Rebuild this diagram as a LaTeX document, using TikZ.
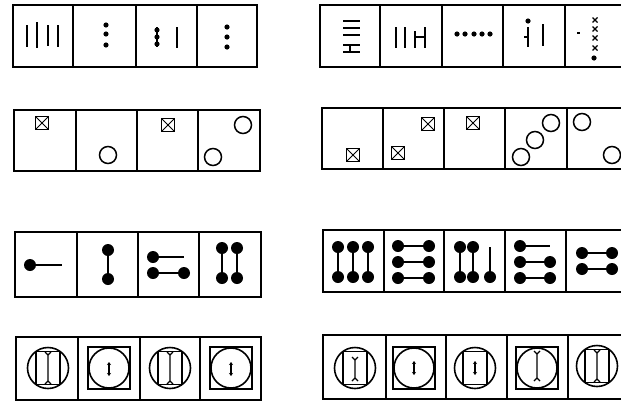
\documentclass[tikz,border=0pt]{standalone}
\usetikzlibrary{arrows.meta}
\begin{document}
\begin{tikzpicture}[x=1pt,y=-1pt,
  rowbox/.style={line width=1.9pt},
  divider/.style={line width=1.4pt},
  stroke/.style={line width=1.8pt},
  heavy/.style={line width=2.3pt},
  fine/.style={line width=1.2pt}]
\useasboundingbox (0,0) rectangle (621,402);
\newcommand\BoxX[2]{\begin{scope}[shift={(#1,#2)}]\draw[line width=1.6pt] (-6.5,-6.5) rectangle (6.5,6.5);\draw[line width=1pt] (-6.5,-6.5)--(6.5,6.5) (-6.5,6.5)--(6.5,-6.5);\end{scope}}
\newcommand\Ring[2]{\draw[line width=1.5pt] (#1,#2) circle[radius=8.5];}
\newcommand\Bead[2]{\fill (#1,#2) circle[radius=6];}
\newcommand\Dot[2]{\fill (#1,#2) circle[radius=2.6];}
\newcommand\Ibeam[4]{\begin{scope}[shift={(#1,#2)}]\draw[fine] (0,-#3)--(0,#3) (-#4,-#3-3)--(0,-#3)--(#4,-#3-3) (-#4,#3+3)--(0,#3)--(#4,#3+3);\end{scope}}
\newcommand\Dart[2]{\draw[line width=1.2pt,{Stealth[length=3pt,width=4pt]}-{Stealth[length=3pt,width=4pt]}] (#1,#2-7)--(#1,#2+7);}
\newcommand\CircRect[2]{\begin{scope}[shift={(#1,#2)}]\draw[line width=1.6pt] (0,0) circle[radius=20.5];\draw[fine] (-12,-16.5) rectangle (12,16.5);\end{scope}}
\newcommand\SqCirc[2]{\begin{scope}[shift={(#1,#2)}]\draw[line width=1.3pt] (-21,-21) rectangle (21,21);\draw[line width=1.6pt] (0,0) circle[radius=20];\end{scope}}
\newcommand\Xmark[2]{\draw[line width=1.1pt] (#1-2.5,#2-2.5)--(#1+2.5,#2+2.5) (#1-2.5,#2+2.5)--(#1+2.5,#2-2.5);}

% ---------------- Row 1 left ----------------
\draw[rowbox] (13,5) rectangle (257,67);
\draw[divider] (73,5)--(73,67) (136,5)--(136,67) (197,5)--(197,67);
\draw[heavy] (27,25)--(27,47) (37,22)--(37,48) (48,25)--(48,46) (58,25)--(58,47);
\Dot{106}{25}\Dot{106}{34}\Dot{106}{45}
\draw[heavy] (157,27)--(157,47); \Dot{157}{30}\Dot{157}{37}\Dot{157}{44}
\draw[heavy] (177,27)--(177,48);
\Dot{227}{27}\Dot{227}{37}\Dot{227}{47}

% ---------------- Row 1 right ----------------
\draw[rowbox] (320,5) rectangle (624,67);
\draw[divider] (380,5)--(380,67) (442,5)--(442,67) (503,5)--(503,67) (565,5)--(565,67);
\draw[heavy] (343,21)--(360,21) (343,28)--(360,28) (343,35)--(360,35) (343,45)--(360,45) (343,52)--(360,52);
\draw[fine] (350,45)--(350,52);
\draw[heavy] (396,27)--(396,48) (405,27)--(405,48) (415,31)--(415,48) (425,27)--(425,48);
\draw[fine] (415,37)--(425,37);
\Dot{457}{34}\Dot{465}{34}\Dot{474}{34}\Dot{482}{34}\Dot{490}{34}
\Dot{528}{21}
\draw[heavy] (528,27)--(528,47) (543,24)--(543,46);
\draw[fine] (524,37)--(528,37);
\Xmark{595}{20}\Xmark{595}{29}\Xmark{595}{38}\Xmark{595}{48}
\Dot{594}{58}
\draw[fine] (577,33)--(580,33);

% ---------------- Row 2 left ----------------
\draw[rowbox] (14,110) rectangle (260,171);
\draw[divider] (76,110)--(76,171) (137,110)--(137,171) (198,110)--(198,171);
\BoxX{42}{123}
\Ring{108}{155}
\BoxX{168}{125}
\Ring{243}{125}\Ring{213}{157}

% ---------------- Row 2 right ----------------
\draw[rowbox] (322,108) rectangle (624,169);
\draw[divider] (383,108)--(383,169) (444,108)--(444,169) (505,108)--(505,169) (567,108)--(567,169);
\BoxX{353}{155}
\BoxX{428}{124}\BoxX{398}{153}
\BoxX{473}{123}
\Ring{521}{157}\Ring{535}{140}\Ring{551}{123}
\Ring{582}{122}\Ring{612}{155}

% ---------------- Row 3 left ----------------
\draw[rowbox] (15,232) rectangle (261,297);
\draw[divider] (77,232)--(77,297) (138,232)--(138,297) (199,232)--(199,297);
\draw[stroke] (30,265)--(62,265); \Bead{30}{265}
\draw[stroke] (108,250)--(108,279); \Bead{108}{250}\Bead{108}{279}
\draw[stroke] (153,257)--(184,257) (153,273)--(184,273);
\Bead{153}{257}\Bead{153}{273}\Bead{184}{273}
\draw[stroke] (222,248)--(222,278) (237,248)--(237,278);
\Bead{222}{248}\Bead{237}{248}\Bead{222}{278}\Bead{237}{278}

% ---------------- Row 3 right ----------------
\draw[rowbox] (323,230) rectangle (624,292);
\draw[divider] (384,230)--(384,292) (444,230)--(444,292) (505,230)--(505,292) (566,230)--(566,292);
\draw[stroke] (338,247)--(338,277) (353,247)--(353,277) (368,247)--(368,277);
\Bead{338}{247}\Bead{353}{247}\Bead{368}{247}\Bead{338}{277}\Bead{353}{277}\Bead{368}{277}
\draw[stroke] (398,246)--(429,246) (398,262)--(429,262) (398,278)--(429,278);
\Bead{398}{246}\Bead{429}{246}\Bead{398}{262}\Bead{429}{262}\Bead{398}{278}\Bead{429}{278}
\draw[stroke] (460,247)--(460,277) (473,247)--(473,277) (490,247)--(490,277);
\Bead{460}{247}\Bead{473}{247}\Bead{460}{277}\Bead{473}{277}\Bead{490}{277}
\draw[stroke] (520,246)--(550,246) (520,262)--(550,262) (520,278)--(550,278);
\Bead{520}{246}\Bead{520}{262}\Bead{550}{262}\Bead{520}{278}\Bead{550}{278}
\draw[stroke] (582,253)--(612,253) (582,269)--(612,269);
\Bead{582}{253}\Bead{612}{253}\Bead{582}{269}\Bead{612}{269}

% ---------------- Row 4 left ----------------
\draw[rowbox] (16,337) rectangle (261,400);
\draw[divider] (78,337)--(78,400) (140,337)--(140,400) (200,337)--(200,400);
\CircRect{48}{368}\Ibeam{48}{368}{13}{3}
\SqCirc{109}{368}\Dart{109}{369}
\CircRect{170}{368}\Ibeam{170}{368}{13}{3}
\SqCirc{231}{368}\Dart{231}{369}

% ---------------- Row 4 right ----------------
\draw[rowbox] (323,335) rectangle (624,399);
\draw[divider] (386,335)--(386,399) (446,335)--(446,399) (507,335)--(507,399) (568,335)--(568,399);
\CircRect{355}{368}\Ibeam{355}{369}{9}{3}
\SqCirc{414}{368}\Dart{414}{368}
\CircRect{475}{368}\Dart{475}{368}
\SqCirc{537}{368}\Ibeam{537}{366}{12}{3}
\CircRect{597}{366}\Ibeam{597}{366}{13}{3}
\end{tikzpicture}
\end{document}
